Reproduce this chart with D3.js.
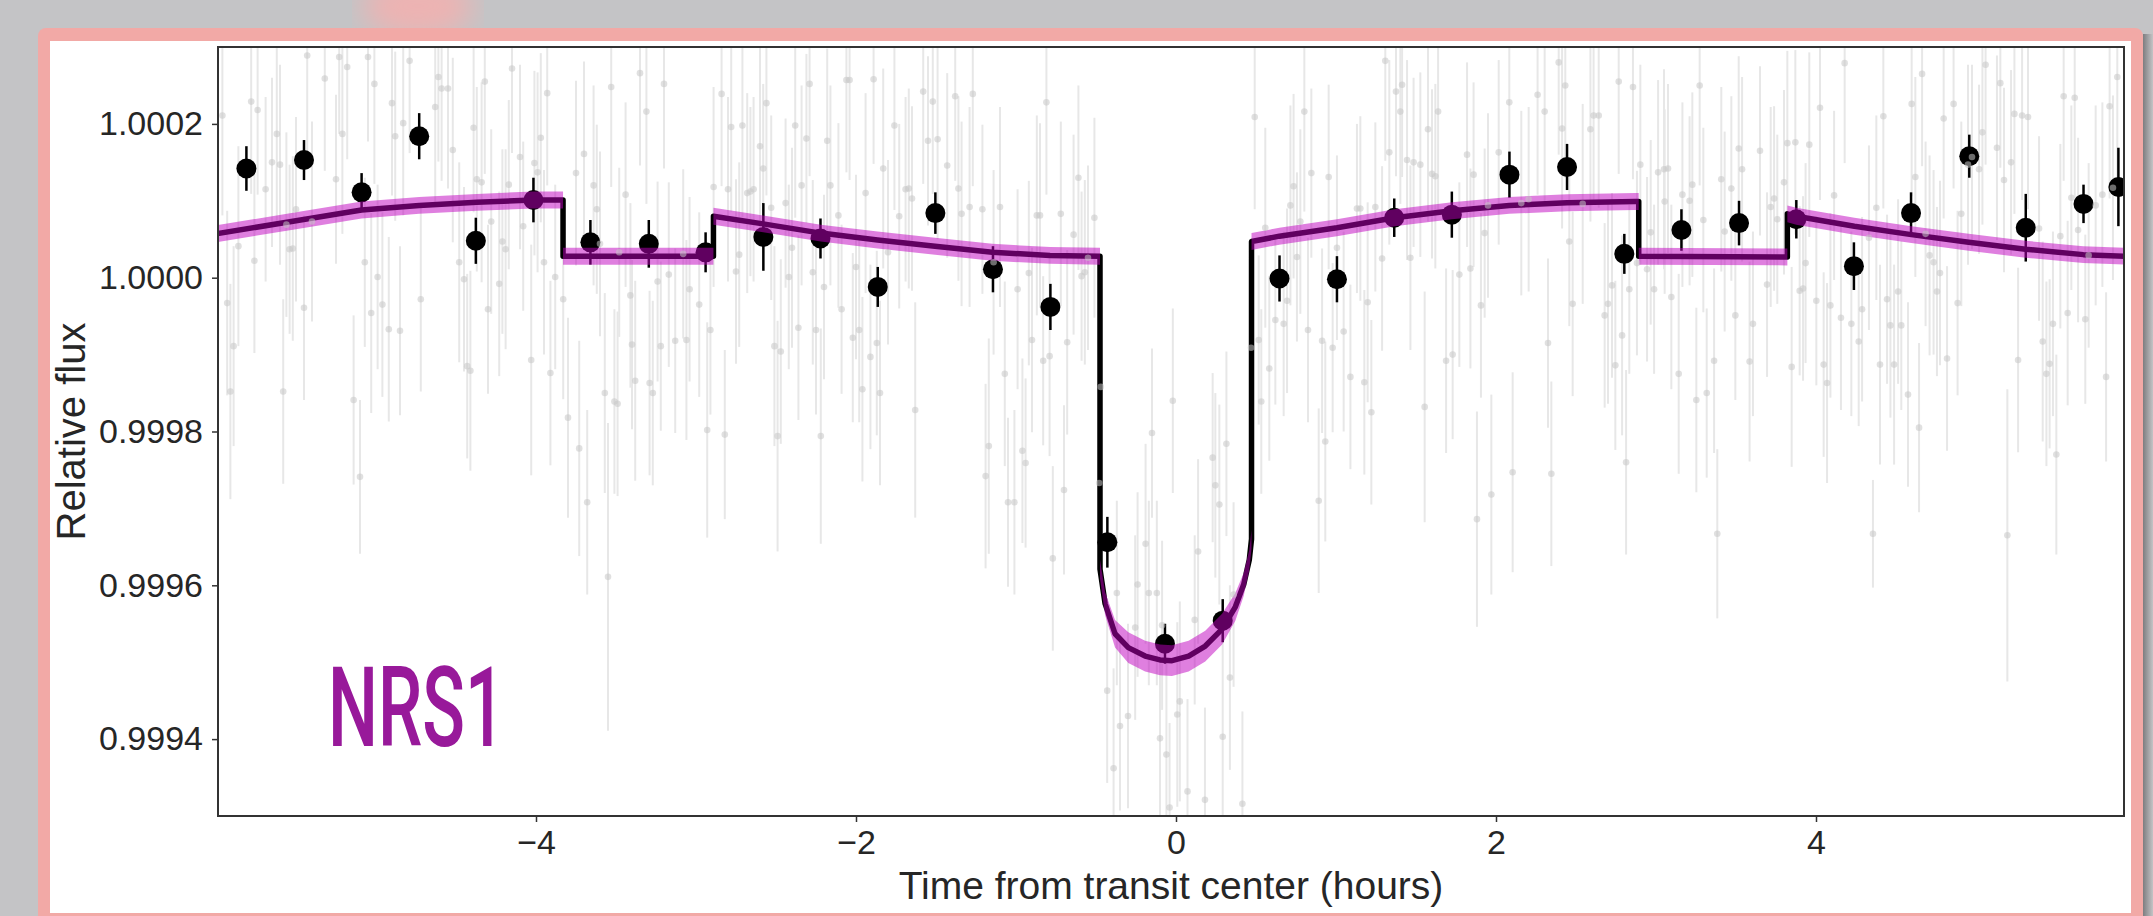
<!DOCTYPE html>
<html>
<head>
<meta charset="utf-8">
<script src="https://cdn.jsdelivr.net/npm/d3@7"></script>
<style>
  html, body { margin: 0; padding: 0; background: #c4c4c6; }
  svg { display: block; }
</style>
</head>
<body>
<div id="chart"></div>
<script>
const W = 2153, H = 916;

// binned points
const binTime = [-5.81, -5.45, -5.09, -4.73, -4.376, -4.016, -3.66, -3.295, -2.94, -2.579, -2.222, -1.864,
  -1.504, -1.144, -0.785, -0.429, -0.069, 0.292, 0.647, 1.006, 1.364, 1.724, 2.084, 2.444, 2.802, 3.159,
  3.519, 3.877, 4.237, 4.594, 4.958, 5.311, 5.672, 5.89];
const binFlux = [1.000142, 1.000153, 1.000111, 1.000184, 1.000048, 1.000101, 1.000046, 1.000044, 1.000033,
  1.000053, 1.000051, 0.999988, 1.000084, 1.000011, 0.999962, 0.999656, 0.999524, 0.999554, 0.999999,
  0.999998, 1.000078, 1.000082, 1.000134, 1.000144, 1.000031, 1.000062, 1.000071, 1.000076, 1.000015,
  1.000084, 1.000158, 1.000065, 1.000096, 1.000118];
const binErr = [0.000029, 0.000026, 0.000025, 0.000030, 0.000030, 0.000029, 0.000029, 0.000031, 0.000026,
  0.000044, 0.000026, 0.000026, 0.000027, 0.000030, 0.000030, 0.000033, 0.000026, 0.000028, 0.000030,
  0.000030, 0.000025, 0.000030, 0.000030, 0.000030, 0.000026, 0.000027, 0.000029, 0.000025, 0.000031,
  0.000027, 0.000028, 0.000044, 0.000025, 0.000051];

// model curve + band half-width
const modelTime = [-6.00, -5.50, -5.09, -4.73, -4.37, -4.02, -3.831, -3.831, -2.891, -2.891, -2.58, -2.22,
  -1.865, -1.506, -1.148, -0.787, -0.475, -0.475, -0.443, -0.381, -0.298, -0.193, -0.10, -0.025, 0.079,
  0.183, 0.288, 0.371, 0.423, 0.458, 0.472, 0.472, 0.646, 1.006, 1.367, 1.725, 2.083, 2.444, 2.871, 2.892,
  2.892, 3.821, 3.821, 3.877, 4.24, 4.596, 4.954, 5.31, 5.671, 5.93];
const modelFlux = [1.000057, 1.000074, 1.000088, 1.000094, 1.000098, 1.000101, 1.000101, 1.000028, 1.000028,
  1.000080, 1.000070, 1.000058, 1.000049, 1.000041, 1.000033, 1.000029, 1.000028, 0.999621, 0.999576,
  0.999537, 0.999519, 0.999508, 0.999503, 0.999502, 0.999508, 0.999521, 0.999543, 0.999572, 0.999601,
  0.999633, 0.999660, 1.000047, 1.000054, 1.000065, 1.000078, 1.000087, 1.000094, 1.0000975, 1.000099,
  1.000099, 1.000028, 1.000027, 1.000083, 1.000080, 1.000067, 1.000056, 1.000046, 1.000037, 1.000030,
  1.000028];
const modelErr = [0.000011, 0.000011, 0.000011, 0.000011, 0.000011, 0.000011, 0.000011, 0.000011, 0.000011,
  0.000011, 0.000011, 0.000011, 0.000011, 0.000011, 0.000011, 0.000011, 0.000011, 0.000012, 0.000015,
  0.000018, 0.00002, 0.00002, 0.00002, 0.00002, 0.00002, 0.00002, 0.00002, 0.000018, 0.000015, 0.000013,
  0.000012, 0.000011, 0.000011, 0.000011, 0.000011, 0.000011, 0.000011, 0.000011, 0.000011, 0.000011,
  0.000011, 0.000011, 0.000011, 0.000011, 0.000011, 0.000011, 0.000011, 0.000011, 0.000011, 0.000011];

// unbinned integrations: [time, flux, err]
const rawPoints = [
  [-5.96, 1.000211, 0.00013], [-5.78, 1.000229, 0.00012], [-5.74, 1.000218, 0.00011], [-5.43, 1.000289, 0.00013],
  [-5.32, 1.000259, 0.00012], [-5.23, 1.000287, 0.00010], [-5.18, 1.000274, 0.00012], [-5.05, 1.000287, 0.00011],
  [-5.01, 1.000252, 0.00013], [-4.79, 1.000282, 0.00012], [-4.61, 1.000261, 0.00011], [-4.59, 1.000246, 0.00012],
  [-4.55, 1.000246, 0.00013], [-4.32, 1.000255, 0.00012], [-4.15, 1.000272, 0.00011], [-3.93, 1.000240, 0.00012],
  [-3.53, 1.000248, 0.00013], [-3.35, 1.000266, 0.00012], [-3.20, 1.000252, 0.00011], [-5.69, 1.000115, 0.00012],
  [-5.65, 1.000150, 0.00011], [-5.60, 1.000147, 0.00013], [-5.62, 1.000187, 0.00012], [-5.50, 1.000089, 0.00012],
  [-5.25, 1.000128, 0.00011], [-5.21, 1.000187, 0.00013], [-4.90, 1.000227, 0.00012], [-4.88, 1.000184, 0.00011],
  [-4.83, 1.000201, 0.00012], [-4.63, 1.000222, 0.00013], [-4.52, 1.000166, 0.00012], [-4.39, 1.000195, 0.00011],
  [-4.37, 1.000128, 0.00012], [-4.34, 1.000124, 0.00013], [-4.28, 1.000073, 0.00012], [-4.17, 1.000121, 0.00011],
  [-4.10, 1.000157, 0.00012], [-4.01, 1.000149, 0.00012], [-3.99, 1.000137, 0.00013], [-3.97, 1.000182, 0.00011],
  [-3.75, 1.000136, 0.00012], [-3.70, 1.000161, 0.00012], [-3.64, 1.000120, 0.00013], [-3.62, 1.000089, 0.00011],
  [-3.31, 1.000216, 0.00012], [-3.44, 1.000108, 0.00012], [-5.86, 1.000041, 0.00013], [-5.76, 1.000022, 0.00012],
  [-5.54, 1.000037, 0.00011], [-5.52, 1.000038, 0.00012], [-5.40, 1.000073, 0.00013], [-5.56, 1.000069, 0.00012],
  [-5.07, 1.000020, 0.00011], [-4.99, 1.000001, 0.00012], [-4.96, 0.999965, 0.00012], [-5.03, 0.999954, 0.00013],
  [-4.92, 0.999933, 0.00012], [-4.85, 0.999931, 0.00011], [-4.72, 0.999972, 0.00012], [-4.48, 1.000020, 0.00013],
  [-4.45, 0.999998, 0.00012], [-4.30, 0.999959, 0.00011], [-4.23, 0.999992, 0.00012], [-4.21, 1.000047, 0.00012],
  [-4.19, 1.000037, 0.00013], [-4.08, 1.000067, 0.00011], [-3.95, 1.000020, 0.00012], [-3.88, 1.000001, 0.00012],
  [-3.83, 0.999972, 0.00013], [-3.60, 1.000044, 0.00012], [-3.48, 1.000033, 0.00011], [-3.41, 0.999977, 0.00012],
  [-3.24, 0.999995, 0.00013], [-3.17, 1.000004, 0.00012], [-3.08, 1.000031, 0.00011], [-3.04, 0.999985, 0.00012],
  [-5.93, 0.999967, 0.00012], [-5.89, 0.999911, 0.00013], [-5.91, 0.999852, 0.00014], [-5.58, 0.999852, 0.00012],
  [-5.45, 0.999961, 0.00012], [-5.14, 0.999841, 0.00011], [-5.10, 0.999741, 0.00010], [-4.43, 0.999885, 0.00012],
  [-4.41, 0.999879, 0.00013], [-4.03, 0.999893, 0.00015], [-3.91, 0.999876, 0.00012], [-3.80, 0.999818, 0.00013],
  [-3.73, 0.999778, 0.00014], [-3.68, 0.999708, 0.00012], [-3.57, 0.999850, 0.00013], [-3.55, 0.999611, 0.00020],
  [-3.51, 0.999839, 0.00012], [-3.49, 0.999836, 0.00012], [-3.40, 0.999913, 0.00011], [-3.38, 0.999866, 0.00013],
  [-3.29, 0.999863, 0.00012], [-3.27, 0.999850, 0.00012], [-3.22, 0.999911, 0.00011], [-3.13, 0.999918, 0.00012],
  [-3.06, 0.999919, 0.00013],
  [-2.84, 1.000239, 0.00012], [-2.78, 1.000196, 0.00011], [-2.71, 1.000198, 0.00012], [-2.60, 1.000171, 0.00013],
  [-2.56, 1.000227, 0.00012], [-2.58, 1.000142, 0.00011], [-2.80, 1.000115, 0.00012], [-2.89, 1.000118, 0.00013],
  [-2.98, 0.999965, 0.00012], [-2.91, 0.999932, 0.00011], [-2.75, 1.000008, 0.00012], [-2.73, 1.000030, 0.00012],
  [-2.68, 1.000110, 0.00013], [-2.66, 1.000112, 0.00011], [-2.64, 1.000115, 0.00012], [-2.53, 1.000091, 0.00012],
  [-2.51, 0.999911, 0.00013], [-2.47, 0.999904, 0.00012], [-2.44, 1.000097, 0.00011], [-2.42, 1.000001, 0.00012],
  [-2.40, 1.000039, 0.00013], [-2.38, 1.000198, 0.00012], [-2.31, 1.000181, 0.00011], [-2.29, 1.000252, 0.00012],
  [-2.36, 0.999935, 0.00012], [-2.34, 1.000120, 0.00013], [-2.27, 1.000007, 0.00012], [-2.25, 0.999932, 0.00011],
  [-2.20, 0.999988, 0.00012], [-2.18, 1.000178, 0.00012], [-2.16, 1.000120, 0.00013], [-2.11, 1.000081, 0.00012],
  [-2.09, 0.999959, 0.00011], [-2.06, 1.000257, 0.00012], [-2.04, 1.000257, 0.00013], [-2.00, 1.000014, 0.00012],
  [-2.02, 0.999922, 0.00011], [-1.98, 0.999932, 0.00012], [-1.96, 0.999855, 0.00012], [-1.94, 1.000110, 0.00013],
  [-1.91, 0.999897, 0.00012], [-1.89, 1.000258, 0.00011], [-1.87, 0.999915, 0.00012], [-1.85, 0.999850, 0.00012],
  [-1.83, 1.000142, 0.00013], [-1.80, 1.000033, 0.00012], [-1.76, 1.000198, 0.00011], [-1.73, 1.000080, 0.00012],
  [-1.69, 1.000115, 0.00012], [-1.67, 1.000116, 0.00013], [-1.65, 1.000103, 0.00012], [-1.63, 0.999828, 0.00014],
  [-1.58, 1.000242, 0.00012], [-1.55, 1.000178, 0.00011], [-1.52, 1.000229, 0.00012], [-1.49, 1.000180, 0.00013],
  [-1.43, 1.000146, 0.00012], [-1.38, 1.000236, 0.00011], [-1.36, 1.000116, 0.00012], [-1.34, 1.000083, 0.00012],
  [-1.29, 1.000092, 0.00013], [-1.27, 1.000239, 0.00012], [-1.21, 1.000089, 0.00011], [-1.19, 0.999742, 0.00012],
  [-1.17, 0.999781, 0.00014], [-1.14, 1.000020, 0.00012], [-1.10, 1.000092, 0.00013], [-1.07, 0.999875, 0.00012],
  [-1.05, 0.999708, 0.00011], [-1.01, 0.999708, 0.00012], [-0.99, 0.999985, 0.00013], [-0.96, 0.999775, 0.00012],
  [-0.94, 0.999759, 0.00011], [-0.92, 1.000006, 0.00012], [-0.90, 0.999919, 0.00012], [-0.87, 1.000081, 0.00013],
  [-0.85, 1.000081, 0.00012], [-0.83, 0.999892, 0.00011], [-0.81, 1.000228, 0.00012], [-0.79, 0.999898, 0.00013],
  [-0.77, 0.999635, 0.00012], [-0.72, 1.000083, 0.00012], [-0.70, 0.999724, 0.00011], [-0.68, 0.999916, 0.00012],
  [-0.64, 1.000056, 0.00013], [-0.61, 1.000130, 0.00012], [-0.59, 1.000002, 0.00011], [-0.57, 1.000007, 0.00012],
  [-0.55, 1.000026, 0.00012], [-0.51, 1.000078, 0.00013], [-0.47, 0.999858, 0.00012], [-0.48, 0.999733, 0.00011],
  [-0.43, 0.999463, 0.00012], [-0.39, 0.999362, 0.00013], [-0.37, 0.999590, 0.00012], [-0.35, 0.999417, 0.00011],
  [-0.30, 0.999430, 0.00012], [-0.24, 0.999601, 0.00012], [-0.19, 0.999654, 0.00013], [-0.17, 0.999590, 0.00012],
  [-0.15, 0.999798, 0.00011], [-0.12, 0.999590, 0.00012], [-0.10, 0.999401, 0.00013], [-0.06, 0.999380, 0.00012],
  [-0.04, 0.999311, 0.00011], [-0.02, 0.999840, 0.00012], [-2.93, 0.999802, 0.00014], [-2.82, 0.999796, 0.00011],
  [-2.49, 0.999794, 0.00015], [-2.22, 0.999794, 0.00014], [-0.255, 0.999545, 0.00012], [-0.087, 0.999548, 0.00011],
  [0.008, 0.999432, 0.00012], [0.024, 0.999449, 0.00013], [0.072, 0.999332, 0.00012], [0.117, 0.999555, 0.00011],
  [0.181, 0.999321, 0.00012], [0.292, 0.999403, 0.00013], [0.337, 0.999480, 0.00012], [0.415, 0.999316, 0.00012],
  [0.138, 0.999644, 0.00012], [0.229, 0.999766, 0.00011], [0.246, 0.999730, 0.00012], [0.271, 0.999705, 0.00013],
  [0.315, 0.999784, 0.00012], [0.36, 0.999588, 0.00012], [0.469, 0.999909, 0.00013], [0.492, 1.000209, 0.00012],
  [0.517, 0.999919, 0.00011], [0.533, 0.999839, 0.00012], [0.558, 1.000065, 0.00013], [0.583, 0.999882, 0.00012],
  [0.621, 0.999945, 0.00011], [0.673, 0.999940, 0.00012], [0.694, 0.999970, 0.00012], [0.715, 1.000094, 0.00013],
  [0.735, 1.000119, 0.00012], [0.756, 1.000027, 0.00011], [0.777, 1.000073, 0.00012], [0.802, 1.000216, 0.00013],
  [0.825, 0.999932, 0.00012], [0.846, 1.000136, 0.00011], [0.892, 0.999710, 0.00012], [0.913, 0.999918, 0.00012],
  [0.933, 0.999787, 0.00013], [0.954, 1.000131, 0.00012], [0.979, 0.999909, 0.00011], [1.006, 1.000039, 0.00012],
  [1.048, 0.999930, 0.00013], [1.090, 0.999871, 0.00012], [1.131, 1.000090, 0.00011], [1.152, 1.000090, 0.00012],
  [1.177, 0.999864, 0.00012], [1.198, 0.999968, 0.00013], [1.221, 0.999825, 0.00012], [1.246, 1.000092, 0.00011],
  [1.288, 1.000025, 0.00012], [1.308, 1.000282, 0.00013], [1.333, 1.000163, 0.00012], [1.375, 1.000242, 0.00011],
  [1.402, 1.000216, 0.00012], [1.413, 1.000251, 0.00012], [1.444, 1.000153, 0.00013], [1.465, 1.000026, 0.00012],
  [1.485, 1.000150, 0.00011], [1.527, 1.000147, 0.00012], [1.554, 0.999832, 0.00015], [1.575, 1.000193, 0.00012],
  [1.600, 1.000135, 0.00011], [1.621, 1.000132, 0.00012], [1.638, 1.000216, 0.00013], [1.688, 0.999892, 0.00012],
  [1.729, 0.999900, 0.00011], [1.771, 1.000004, 0.00012], [1.819, 1.000160, 0.00012], [1.840, 1.000012, 0.00013],
  [1.860, 1.000134, 0.00012], [1.881, 0.999686, 0.00014], [1.906, 0.999964, 0.00012], [1.929, 1.000058, 0.00011],
  [1.950, 1.000094, 0.00012], [1.971, 0.999718, 0.00013], [2.017, 1.000163, 0.00012], [2.083, 1.000228, 0.00011],
  [2.104, 0.999747, 0.00013], [2.158, 1.000097, 0.00012], [2.204, 1.000102, 0.00012], [2.260, 1.000238, 0.00013],
  [2.304, 1.000216, 0.00012], [2.325, 0.999915, 0.00011], [2.346, 0.999745, 0.00012], [2.392, 1.000280, 0.00012],
  [2.413, 1.000194, 0.00013], [2.433, 1.000250, 0.00012], [2.458, 1.000047, 0.00011], [2.479, 0.999966, 0.00012],
  [2.542, 1.000096, 0.00013], [2.590, 1.000193, 0.00012], [2.610, 1.000211, 0.00011], [2.642, 1.000211, 0.00012],
  [2.679, 0.999951, 0.00012], [2.700, 0.999966, 0.00013], [2.725, 0.999990, 0.00012], [2.746, 0.999886, 0.00011],
  [2.767, 1.000255, 0.00012], [2.788, 0.999925, 0.00013], [2.813, 0.999760, 0.00012], [2.833, 0.999985, 0.00011],
  [2.856, 1.000248, 0.00012], [2.881, 1.000019, 0.00012], [2.902, 1.000147, 0.00013], [2.944, 1.000011, 0.00012],
  [2.967, 1.000059, 0.00012], [2.988, 0.999985, 0.00011], [3.013, 1.000137, 0.00012], [3.050, 1.000141, 0.00013],
  [3.054, 1.000099, 0.00012], [3.075, 1.000142, 0.00011], [3.096, 0.999975, 0.00012], [3.142, 0.999875, 0.00013],
  [3.165, 1.000108, 0.00012], [3.210, 1.000100, 0.00011], [3.227, 1.000121, 0.00012], [3.252, 0.999841, 0.00012],
  [3.273, 1.000250, 0.00013], [3.296, 1.000075, 0.00012], [3.317, 0.999850, 0.00011], [3.363, 0.999892, 0.00012],
  [3.383, 0.999667, 0.00011], [3.408, 1.000128, 0.00012], [3.429, 1.000060, 0.00013], [3.471, 1.000116, 0.00012],
  [3.496, 0.999951, 0.00011], [3.517, 1.000168, 0.00012], [3.538, 1.000141, 0.00012], [3.585, 0.999891, 0.00013],
  [3.606, 0.999940, 0.00012], [3.650, 1.000165, 0.00011], [3.694, 0.999991, 0.00012], [3.717, 1.000092, 0.00013],
  [3.738, 1.000103, 0.00012], [3.758, 1.000076, 0.00011], [3.800, 1.000124, 0.00012], [3.821, 1.000175, 0.00012],
  [3.848, 0.999884, 0.00013], [3.871, 1.000176, 0.00012], [3.898, 0.999983, 0.00011], [3.919, 0.999986, 0.00012],
  [3.935, 1.000019, 0.00013], [3.958, 1.000173, 0.00012], [4.002, 0.999970, 0.00011], [4.025, 1.000221, 0.00012],
  [4.048, 0.999887, 0.00012], [4.069, 0.999863, 0.00013], [4.090, 0.999964, 0.00012], [4.113, 1.000107, 0.00011],
  [4.156, 0.999948, 0.00012], [4.179, 1.000279, 0.00013], [4.221, 0.999940, 0.00012], [4.267, 0.999917, 0.00011],
  [4.288, 0.999959, 0.00012], [4.331, 1.000052, 0.00012], [4.356, 0.999667, 0.00007], [4.377, 1.000091, 0.00012],
  [4.400, 0.999887, 0.00013], [4.421, 1.000210, 0.00012], [4.444, 0.999972, 0.00011], [4.465, 0.999938, 0.00012],
  [4.488, 0.999887, 0.00013], [4.513, 0.999982, 0.00012], [4.533, 0.999938, 0.00011], [4.575, 0.999848, 0.00012],
  [4.598, 1.000226, 0.00012], [4.621, 1.000131, 0.00013], [4.644, 0.999805, 0.00011], [4.663, 1.000265, 0.00012],
  [4.685, 1.000057, 0.00012], [4.710, 1.000029, 0.00013], [4.735, 1.000020, 0.00012], [4.756, 0.999982, 0.00011],
  [4.775, 1.000006, 0.00012], [4.798, 1.000207, 0.00013], [4.819, 0.999895, 0.00012], [4.860, 1.000226, 0.00011],
  [4.885, 0.999967, 0.00012], [4.908, 1.000083, 0.00012], [4.950, 1.000147, 0.00013], [4.975, 1.000157, 0.00012],
  [5.019, 1.000141, 0.00011], [5.040, 1.000189, 0.00012], [5.060, 1.000277, 0.00013], [5.131, 1.000169, 0.00012],
  [5.152, 1.000253, 0.00011], [5.175, 1.000127, 0.00012], [5.196, 0.999665, 0.00019], [5.219, 1.000150, 0.00012],
  [5.240, 1.000213, 0.00013], [5.263, 0.999893, 0.00012], [5.288, 1.000211, 0.00011], [5.325, 1.000209, 0.00012],
  [5.394, 1.000064, 0.00012], [5.417, 0.999917, 0.00013], [5.440, 0.999875, 0.00012], [5.460, 0.999888, 0.00011],
  [5.481, 0.999940, 0.00012], [5.502, 0.999770, 0.00013], [5.527, 1.000054, 0.00012], [5.548, 1.000236, 0.00011],
  [5.573, 0.999954, 0.00012], [5.596, 1.000104, 0.00012], [5.617, 1.000234, 0.00013], [5.638, 1.000062, 0.00012],
  [5.683, 0.999946, 0.00011], [5.704, 1.000029, 0.00012], [5.748, 1.000094, 0.00013], [5.790, 1.000108, 0.00012],
  [5.813, 0.999871, 0.00011], [5.835, 1.000223, 0.00012], [5.856, 1.000117, 0.00012], [5.883, 1.000261, 0.00013]
];

const xTicks = [-4, -2, 0, 2, 4];
const yTicks = [0.9994, 0.9996, 0.9998, 1.0000, 1.0002];

const plot = { left: 218, right: 2124, top: 47, bottom: 816 };

const svg = d3.select("#chart").append("svg")
  .attr("width", W)
  .attr("height", H);

const defs = svg.append("defs");
defs.append("filter").attr("id", "blur")
  .append("feGaussianBlur").attr("stdDeviation", 14);
const shade = defs.append("linearGradient").attr("id", "shade");
shade.append("stop").attr("offset", "0%").attr("stop-color", "#7d7d80");
shade.append("stop").attr("offset", "100%").attr("stop-color", "#c4c4c6");
defs.append("clipPath").attr("id", "plotclip")
  .append("rect")
  .attr("x", plot.left).attr("y", plot.top)
  .attr("width", plot.right - plot.left).attr("height", plot.bottom - plot.top);

// backdrop and frame
svg.append("rect").attr("width", W).attr("height", H).attr("fill", "#c4c4c6");
svg.append("ellipse").attr("cx", 418).attr("cy", 6).attr("rx", 55).attr("ry", 32)
  .attr("fill", "#edb3b2").attr("filter", "url(#blur)");
svg.append("rect").attr("x", 2143).attr("y", 34).attr("width", 10).attr("height", H)
  .attr("fill", "url(#shade)");
svg.append("rect").attr("x", 38).attr("y", 28).attr("width", 2105).attr("height", 920)
  .attr("rx", 8).attr("fill", "#f2a9a6");
svg.append("rect").attr("x", 50).attr("y", 41).attr("width", 2081).attr("height", 872)
  .attr("fill", "#ffffff");

const x = d3.scaleLinear().domain([-5.9875, 5.925]).range([plot.left, plot.right]);
const y = d3.scaleLinear().domain([0.9993, 1.0003]).range([plot.bottom, plot.top]);

const g = svg.append("g").attr("clip-path", "url(#plotclip)");

// raw error bars
g.append("g").selectAll("line")
  .data(rawPoints)
  .join("line")
  .attr("x1", d => x(d[0])).attr("x2", d => x(d[0]))
  .attr("y1", d => y(d[1] - d[2])).attr("y2", d => y(d[1] + d[2]))
  .attr("stroke", "#e7e7e7")
  .attr("stroke-width", 2);

// binned points
const bins = binTime.map((t, i) => ({ t: t, f: binFlux[i], e: binErr[i] }));
g.append("g").selectAll("line")
  .data(bins)
  .join("line")
  .attr("x1", d => x(d.t)).attr("x2", d => x(d.t))
  .attr("y1", d => y(d.f - d.e)).attr("y2", d => y(d.f + d.e))
  .attr("stroke", "#000")
  .attr("stroke-width", 2.5);
g.append("g").selectAll("circle")
  .data(bins)
  .join("circle")
  .attr("cx", d => x(d.t))
  .attr("cy", d => y(d.f))
  .attr("r", 10)
  .attr("fill", "#000");

// model
const model = modelTime.map((t, i) => ({ t: t, f: modelFlux[i], e: modelErr[i] }));
g.append("path")
  .attr("d", d3.line().x(d => x(d.t)).y(d => y(d.f))(model))
  .attr("fill", "none")
  .attr("stroke", "#000")
  .attr("stroke-width", 5.5)
  .attr("stroke-linejoin", "round");
g.append("path")
  .attr("d", d3.area().x(d => x(d.t)).y0(d => y(d.f - d.e)).y1(d => y(d.f + d.e))(model))
  .attr("fill", "#bf00bf")
  .attr("fill-opacity", 0.5);

// raw points on top
g.append("g").selectAll("circle")
  .data(rawPoints)
  .join("circle")
  .attr("cx", d => x(d[0]))
  .attr("cy", d => y(d[1]))
  .attr("r", 3.3)
  .attr("fill", "#c6c6c6")
  .attr("fill-opacity", 0.55);

// axes
const font = "'Liberation Sans', Arial, Helvetica, sans-serif";
const xAxis = svg.append("g")
  .attr("transform", "translate(0," + plot.bottom + ")")
  .call(d3.axisBottom(x).tickValues(xTicks).tickFormat(d3.format("d")).tickSize(6).tickPadding(8));
const yAxis = svg.append("g")
  .attr("transform", "translate(" + plot.left + ",0)")
  .call(d3.axisLeft(y).tickValues(yTicks).tickFormat(d3.format(".4f")).tickSize(6).tickPadding(9));
[xAxis, yAxis].forEach(a => {
  a.select(".domain").remove();
  a.selectAll(".tick line").attr("stroke", "#333").attr("stroke-width", 1.5);
  a.selectAll(".tick text")
    .attr("fill", "#262626")
    .style("font-family", font)
    .style("font-size", "34px");
});

svg.append("rect")
  .attr("x", plot.left).attr("y", plot.top)
  .attr("width", plot.right - plot.left).attr("height", plot.bottom - plot.top)
  .attr("fill", "none")
  .attr("stroke", "#333")
  .attr("stroke-width", 2);

svg.append("text")
  .attr("transform", "translate(85," + (plot.top + plot.bottom) / 2 + ") rotate(-90)")
  .attr("text-anchor", "middle")
  .attr("fill", "#262626")
  .style("font-family", font)
  .style("font-size", "40px")
  .text("Relative flux");

svg.append("text")
  .attr("x", (plot.left + plot.right) / 2)
  .attr("y", 899)
  .attr("text-anchor", "middle")
  .attr("fill", "#262626")
  .style("font-family", font)
  .style("font-size", "39px")
  .text("Time from transit center (hours)");

svg.append("text")
  .attr("x", 328)
  .attr("y", 746)
  .attr("textLength", 177)
  .attr("lengthAdjust", "spacingAndGlyphs")
  .attr("fill", "#98199a")
  .style("font-family", "Roboto, 'Liberation Sans', sans-serif")
  .style("font-weight", 500)
  .style("font-size", "111px")
  .text("NRS1");
</script>
</body>
</html>
